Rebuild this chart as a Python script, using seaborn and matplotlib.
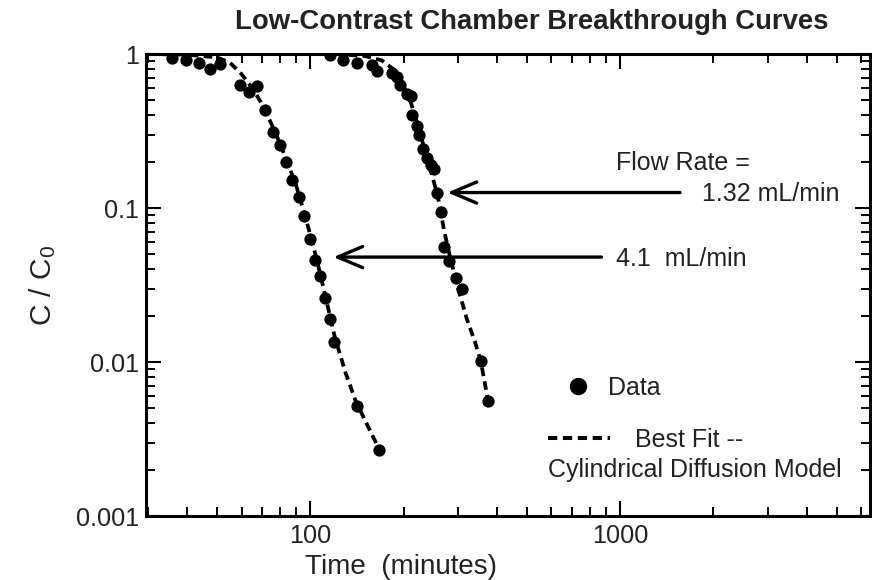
import numpy as np
import pandas as pd
import matplotlib
matplotlib.use("Agg")
import matplotlib.pyplot as plt
import seaborn as sns
from matplotlib.ticker import LogLocator, FixedLocator, FixedFormatter, NullFormatter
from matplotlib.lines import Line2D

# ---------------- data ----------------
t_41 = [35.7, 39.6, 43.6, 47.5, 51.2, 59.4, 63.2, 67.3, 71.5, 75.8, 80.0, 83.4,
        87.3, 91.7, 95.6, 100.0, 103.8, 107.2, 111.8, 115.5, 119.6, 141.6, 166.8]
c_41 = [0.94, 0.91, 0.87, 0.80, 0.86, 0.63, 0.57, 0.62, 0.43, 0.31, 0.255, 0.198,
        0.152, 0.117, 0.089, 0.063, 0.046, 0.036, 0.026, 0.019, 0.0135, 0.0052, 0.0027]

t_132 = [116.1, 127.6, 141.6, 158.3, 164.3, 183.7, 190.7, 195.4, 204.4, 210.6, 213.3,
         220.2, 223.9, 231.4, 237.2, 244.3, 250.4, 255.5, 263.2, 269.8, 280.0, 294.3,
         307.8, 354.5, 374.4]
c_132 = [0.99, 0.92, 0.88, 0.85, 0.78, 0.75, 0.71, 0.63, 0.55, 0.53, 0.40,
         0.34, 0.30, 0.24, 0.21, 0.19, 0.18, 0.126, 0.094, 0.056, 0.045, 0.035,
         0.030, 0.0101, 0.0056]

fit_t_41 = [30, 40, 50, 55, 60, 65, 70, 75, 80, 85, 90, 95, 100, 105, 110, 115,
            120, 130, 140, 150, 167]
fit_c_41 = [1.0, 0.99, 0.95, 0.88, 0.74, 0.60, 0.47, 0.35, 0.26, 0.19, 0.14, 0.097,
            0.067, 0.046, 0.031, 0.021, 0.0145, 0.0085, 0.0056, 0.0042, 0.0027]

fit_t_132 = [120, 150, 170, 185, 200, 210, 220, 230, 240, 250, 260, 270, 280, 290,
             300, 320, 340, 355, 374]
fit_c_132 = [1.0, 0.97, 0.91, 0.80, 0.62, 0.50, 0.37, 0.27, 0.20, 0.15, 0.11, 0.072,
             0.052, 0.039, 0.030, 0.019, 0.0135, 0.0101, 0.0057]

y_ticks = [0.001, 0.01, 0.1, 1]
y_ticklabels = ["0.001", "0.01", "0.1", "1"]
x_ticks = [100, 1000]
x_ticklabels = ["100", "1000"]

title = "Low-Contrast Chamber Breakthrough Curves"
xlabel = "Time  (minutes)"
ylabel = r"C / C$_\mathregular{0}$"

data_df = pd.concat([
    pd.DataFrame({"t": t_41, "c": c_41, "flow": "4.1"}),
    pd.DataFrame({"t": t_132, "c": c_132, "flow": "1.32"}),
], ignore_index=True)
fit_df = pd.concat([
    pd.DataFrame({"t": fit_t_41, "c": fit_c_41, "flow": "4.1"}),
    pd.DataFrame({"t": fit_t_132, "c": fit_c_132, "flow": "1.32"}),
], ignore_index=True)

# ---------------- style ----------------
sns.set_theme(style="ticks")
plt.rcParams["font.family"] = ["Liberation Sans", "DejaVu Sans"]
plt.rcParams["mathtext.default"] = "regular"
TXT = "#222222"

fig = plt.figure(figsize=(8.72, 5.80), dpi=100)
ax = fig.add_axes([146 / 872, 1 - 516 / 580, (870 - 146) / 872, (516 - 54) / 580])

DASH = (0, (2.3, 1.4))
sns.lineplot(data=fit_df, x="t", y="c", units="flow", estimator=None, sort=False,
             color="black", lw=2.7, ax=ax, legend=False, linestyle="--")
for ln in ax.get_lines():
    ln.set_linestyle(DASH)
sns.scatterplot(data=data_df, x="t", y="c", color="black", s=78, linewidth=0,
                ax=ax, legend=False, zorder=3)

ax.set_xscale("log")
ax.set_yscale("log")
ax.set_xlim(29.5, 6400)
ax.set_ylim(0.001, 1)

ax.xaxis.set_major_locator(FixedLocator(x_ticks))
ax.xaxis.set_major_formatter(FixedFormatter(x_ticklabels))
ax.xaxis.set_minor_locator(LogLocator(base=10, subs=np.arange(2, 10)))
ax.xaxis.set_minor_formatter(NullFormatter())
ax.yaxis.set_major_locator(FixedLocator(y_ticks))
ax.yaxis.set_major_formatter(FixedFormatter(y_ticklabels))
ax.yaxis.set_minor_locator(LogLocator(base=10, subs=np.arange(2, 10)))
ax.yaxis.set_minor_formatter(NullFormatter())

ax.tick_params(which="both", direction="in", top=True, right=True, color="black",
               labelcolor=TXT, labelsize=18.2)
ax.tick_params(which="major", length=10.5, width=1.5, pad=5)
ax.tick_params(which="minor", length=6.5, width=1.4)
ax.tick_params(axis="x", which="major", pad=6)
for sp in ax.spines.values():
    sp.set_linewidth(2.2)
    sp.set_color("black")

ax.set_xlabel(xlabel, fontsize=20, color=TXT)
ax.xaxis.set_label_coords((401 - 146) / 724, -(574 - 516) / 462)
ax.xaxis.label.set_va("baseline")
ax.set_ylabel(ylabel, fontsize=21.5, color=TXT, labelpad=13)
fig.text(531.5 / 872, 1 - 22 / 580, title, ha="center", va="center",
         fontsize=19.8, fontweight="bold", color=TXT)

# ---------------- annotations ----------------
arrow_kw = dict(arrowstyle="->,head_length=0.9,head_width=0.38", lw=2.4,
                color="black", mutation_scale=20, shrinkA=0, shrinkB=0)
ax.annotate("", xy=(277, 0.126), xytext=(1560, 0.126), arrowprops=arrow_kw)
ax.annotate("", xy=(118.7, 0.048), xytext=(870, 0.048), arrowprops=arrow_kw)
ax.text(972, 0.196, "Flow Rate =", ha="left", va="center", fontsize=18, color=TXT)
ax.text(1830, 0.124, "1.32 mL/min", ha="left", va="center", fontsize=18, color=TXT)
ax.text(972, 0.0465, "4.1  mL/min", ha="left", va="center", fontsize=18, color=TXT)

# ---------------- legend ----------------
h_data = Line2D([], [], marker="o", color="black", linestyle="none", markersize=11.5)
h_fit = Line2D([], [], color="black", lw=2.9, linestyle=DASH)
leg1 = ax.legend([h_data], ["Data"], loc="center left", bbox_to_anchor=(0.569, 0.277),
                 frameon=False, fontsize=18, handlelength=1.6, handletextpad=0.4,
                 borderpad=0, borderaxespad=0, labelcolor=TXT)
ax.add_artist(leg1)
ax.legend([h_fit], ["Best Fit --"], loc="center left", bbox_to_anchor=(0.555, 0.1645),
          frameon=False, fontsize=18, handlelength=2.48, handletextpad=1.0,
          borderpad=0, borderaxespad=0, labelcolor=TXT)
ax.text(0.555, 0.0996, "Cylindrical Diffusion Model", transform=ax.transAxes,
        ha="left", va="center", fontsize=18, color=TXT)

fig.savefig("out.png", dpi=100)
